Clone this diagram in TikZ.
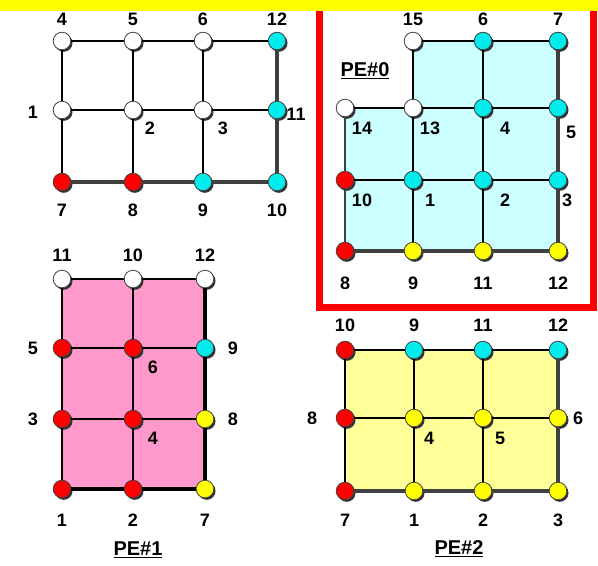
\documentclass[tikz,border=0pt]{standalone}
\usepackage{fontspec}
\setmainfont{Liberation Sans}
\usetikzlibrary{shadows}

\definecolor{pecyan}{RGB}{0,235,235}
\definecolor{pered}{RGB}{255,0,0}
\definecolor{peyellow}{RGB}{255,255,0}
\definecolor{fillcyan}{RGB}{204,255,255}
\definecolor{fillpink}{RGB}{255,153,204}
\definecolor{fillyellow}{RGB}{255,255,153}
\definecolor{bndgray}{RGB}{64,64,64}

\tikzset{
	pnode/.style={circle, draw=black!75, line width=0.6pt, fill=#1, minimum size=13.2pt, inner sep=0pt,
		drop shadow={shadow xshift=1.3pt, shadow yshift=-1.5pt, fill=black!80, opacity=1}},
	meshline/.style={line width=1.1pt, black},
	bndline/.style={line width=3.4pt, bndgray},
	lbl/.style={font=\bfseries\fontsize{13.5}{15}\selectfont, inner sep=0pt},
	pelbl/.style={font=\bfseries\fontsize{15}{17}\selectfont, inner sep=0pt}
}

\begin{document}
\begin{tikzpicture}[x=0.75pt, y=-0.75pt]
	\useasboundingbox (0,0) rectangle (598,565);

	% top-left domain
	\begin{scope}
		\foreach \n/\x/\y/\c in {4/62/41/white, 5/133/41/white, 6/203/41/white, 12/277/41/pecyan,
			1/62/110/white, 2/133/110/white, 3/203/110/white, 11/277/110/pecyan,
			7/62/182/pered, 8/133/182/pered, 9/203/182/pecyan, 10/277/182/pecyan}
		{
			\node[pnode=\c] (a\n) at (\x,\y) {};
		}
		\draw[meshline] (a4) -- (a5) -- (a6) -- (a12);
		\draw[meshline] (a1) -- (a2) -- (a3) -- (a11);
		\draw[meshline] (a4) -- (a1) -- (a7);
		\draw[meshline] (a5) -- (a2) -- (a8);
		\draw[meshline] (a6) -- (a3) -- (a9);
		\draw[bndline] (a7) -- (a8) -- (a9) -- (a10);
		\draw[bndline] (a12) -- (a11) -- (a10);
		\foreach \t/\x/\y in {4/62/19, 5/133/19, 6/203/19, 12/277/19,
			7/62/210, 8/133/210, 9/203/210, 10/277/210, 1/33/112, 11/296/114}
		{
			\node[lbl] (al\t) at (\x,\y) {\t};
		}
		\node[lbl] (ai2) at (150,128) {2};
		\node[lbl] (ai3) at (223,128) {3};
	\end{scope}

	% PE#0
	\begin{scope}
		\fill[fillcyan] (413,41) -- (558,41) -- (558,251) -- (345,251) -- (345,108) -- (413,108) -- cycle;
		\foreach \n/\x/\y/\c in {15/413/41/white, 6/483/41/pecyan, 7/558/41/pecyan,
			14/345/108/white, 13/413/108/white, 4/483/108/pecyan, 5/558/108/pecyan,
			10/345/180/pered, 1/413/180/pecyan, 2/483/180/pecyan, 3/558/180/pecyan,
			8/345/251/pered, 9/413/251/peyellow, 11/483/251/peyellow, 12/558/251/peyellow}
		{
			\node[pnode=\c] (b\n) at (\x,\y) {};
		}
		\draw[meshline] (b15) -- (b6) -- (b7);
		\draw[meshline] (b14) -- (b13) -- (b4) -- (b5);
		\draw[meshline] (b10) -- (b1) -- (b2) -- (b3);
		\draw[meshline, line width=1.6pt, bndgray] (b14) -- (b10) -- (b8);
		\draw[meshline] (b15) -- (b13) -- (b1) -- (b9);
		\draw[meshline] (b6) -- (b4) -- (b2) -- (b11);
		\draw[bndline] (b8) -- (b9) -- (b11) -- (b12);
		\draw[bndline] (b7) -- (b5) -- (b3) -- (b12);
		\foreach \t/\x/\y in {15/413/19, 6/483/19, 7/558/19,
			8/345/283, 9/413/283, 11/483/283, 12/558/283,
			14/362/128, 13/430/128, 4/505/128, 5/571/132,
			10/362/200, 1/430/200, 2/505/200, 3/567/200}
		{
			\node[lbl] (bl\t) at (\x,\y) {\t};
		}
		\node[pelbl] (pe0) at (365,71) {\underline{PE\#0}};
	\end{scope}

	% PE#1
	\begin{scope}
		\fill[fillpink] (62,279) rectangle (205,489);
		\foreach \n/\x/\y/\c in {11/62/279/white, 10/133/279/white, 12/205/279/white,
			5/62/348/pered, 6/133/348/pered, 9/205/348/pecyan,
			3/62/419/pered, 4/133/419/pered, 8/205/419/peyellow,
			1/62/489/pered, 2/133/489/pered, 7/205/489/peyellow}
		{
			\node[pnode=\c] (c\n) at (\x,\y) {};
		}
		\draw[meshline] (c11) -- (c10) -- (c12);
		\draw[meshline] (c5) -- (c6) -- (c9);
		\draw[meshline] (c3) -- (c4) -- (c8);
		\draw[meshline] (c11) -- (c5) -- (c3) -- (c1);
		\draw[meshline] (c10) -- (c6) -- (c4) -- (c2);
		\draw[bndline, black] (c12) -- (c9) -- (c8) -- (c7);
		\draw[bndline, black] (c1) -- (c2) -- (c7);
		\foreach \t/\x/\y in {11/62/255, 10/133/255, 12/205/255,
			5/33/348, 3/33/419, 9/233/348, 8/233/419,
			6/153/367, 4/153/438, 1/62/520, 2/133/520, 7/205/520}
		{
			\node[lbl] (cl\t) at (\x,\y) {\t};
		}
		\node[pelbl] (pe1) at (138,550) {\underline{PE\#1}};
	\end{scope}

	% PE#2
	\begin{scope}
		\fill[fillyellow] (345,350) rectangle (558,491);
		\foreach \n/\x/\y/\c in {10/345/350/pered, 9/414/350/pecyan, 11/483/350/pecyan, 12/558/350/pecyan,
			8/345/418/pered, 4/414/418/peyellow, 5/483/418/peyellow, 6/558/418/peyellow,
			7/345/491/pered, 1/414/491/peyellow, 2/483/491/peyellow, 3/558/491/peyellow}
		{
			\node[pnode=\c] (d\n) at (\x,\y) {};
		}
		\draw[meshline] (d10) -- (d9) -- (d11) -- (d12);
		\draw[meshline] (d8) -- (d4) -- (d5) -- (d6);
		\draw[meshline] (d10) -- (d8) -- (d7);
		\draw[meshline] (d9) -- (d4) -- (d1);
		\draw[meshline] (d11) -- (d5) -- (d2);
		\draw[bndline] (d12) -- (d6) -- (d3);
		\draw[bndline] (d7) -- (d1) -- (d2) -- (d3);
		\foreach \t/\x/\y in {10/345/325, 9/414/325, 11/483/325, 12/558/325,
			8/312/418, 6/578/418, 4/429/438, 5/500/438,
			7/345/520, 1/414/520, 2/483/520, 3/558/520}
		{
			\node[lbl] (dl\t) at (\x,\y) {\t};
		}
		\node[pelbl] (pe2) at (459,549) {\underline{PE\#2}};
	\end{scope}

	% frame round PE#0 and bar on top
	\draw[pered, line width=5.25pt] (319,-10) rectangle (593,307);
	\fill[peyellow] (0,0) rectangle (598,11);
\end{tikzpicture}
\end{document}
